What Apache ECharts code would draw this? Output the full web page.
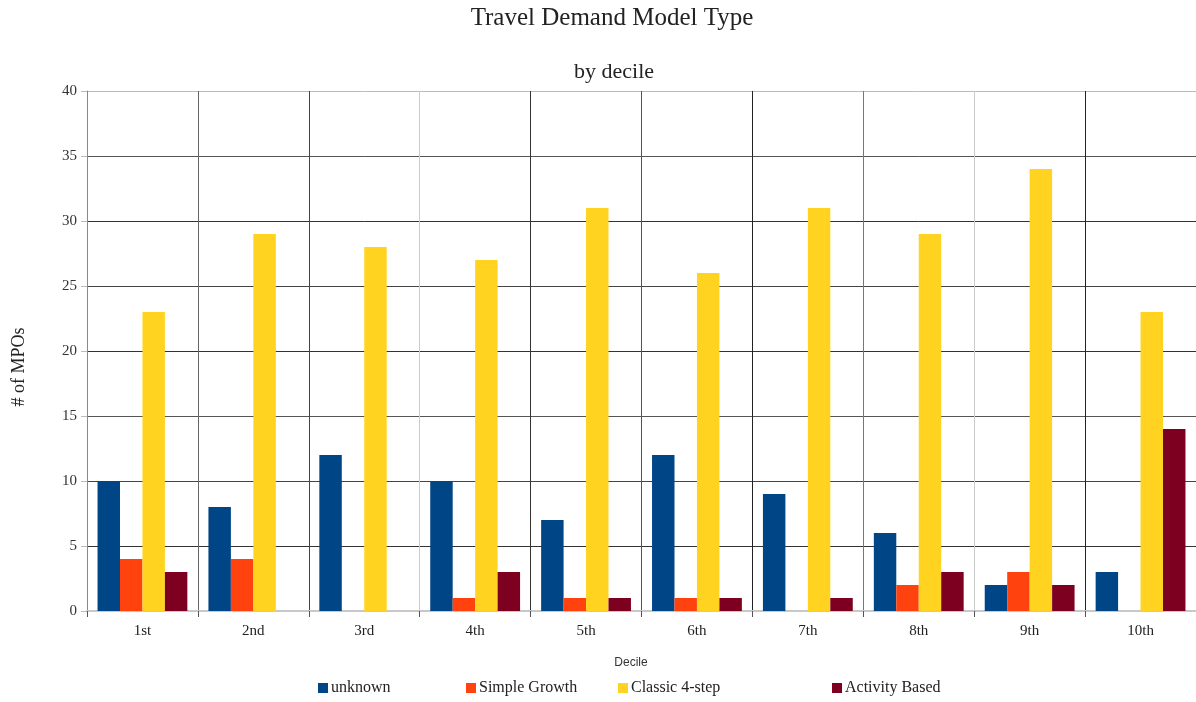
<!DOCTYPE html>
<html>
<head>
<meta charset="utf-8">
<script src="https://cdn.jsdelivr.net/npm/echarts@6/dist/echarts.min.js"></script>
<style>
  html, body { margin: 0; padding: 0; background: #ffffff; }
  #chart { width: 1196px; height: 702px; }
</style>
</head>
<body>
<div id="chart"></div>
<script>
// Deciles along the x axis
const deciles = ['1st', '2nd', '3rd', '4th', '5th', '6th', '7th', '8th', '9th', '10th'];

// Number of MPOs per model type in each decile
const unknownCounts      = [10, 8, 12, 10, 7, 12, 9, 6, 2, 3];
const simpleGrowthCounts = [4, 4, 0, 1, 1, 1, 0, 2, 3, 0];
const classicCounts      = [23, 29, 28, 27, 31, 26, 31, 29, 34, 23];
const activityCounts     = [3, 0, 0, 3, 1, 1, 1, 3, 2, 14];

const seriesNames = ['unknown', 'Simple Growth', 'Classic 4-step', 'Activity Based'];
const seriesColors = ['#004586', '#ff420e', '#ffd320', '#7e0021'];
const seriesData = [unknownCounts, simpleGrowthCounts, classicCounts, activityCounts];

const serif = '"Liberation Serif", "DejaVu Serif", serif';
const sans = '"Liberation Sans", Arial, sans-serif';

const chart = echarts.init(document.getElementById('chart'), null, { renderer: 'canvas' });

// Left edge of each legend entry along the bottom row
const legendLefts = [318, 466, 618, 832];

const option = {
  animation: false,
  backgroundColor: '#ffffff',
  legend: seriesNames.map((name, i) => ({
    data: [name],
    left: legendLefts[i],
    top: 680,
    itemWidth: 10,
    itemHeight: 10,
    itemGap: 0,
    padding: 0,
    icon: 'rect',
    selectedMode: false,
    textStyle: { fontFamily: serif, fontSize: 16, color: '#222', padding: [0, 0, 0, -2] }
  })),
  grid: { left: 87, top: 91, right: -2, bottom: 91, containLabel: false },
  xAxis: {
    type: 'category',
    data: deciles,
    axisLine: { show: true, lineStyle: { color: '#c8c8c8', width: 2 } },
    axisTick: { show: true, length: 6, lineStyle: { color: '#555' } },
    axisLabel: { fontFamily: serif, fontSize: 15, color: '#222', margin: 13 },
    splitLine: {
      show: true,
      lineStyle: {
        color: ['#888', '#666', '#444', '#ccc', '#333', '#555', '#222', '#777', '#ccc', '#222', '#222'],
        width: 1
      }
    }
  },
  yAxis: {
    type: 'value',
    min: 0, max: 40, interval: 5,
    axisLine: { show: true, lineStyle: { color: '#888' } },
    axisTick: { show: true, length: 6, lineStyle: { color: '#bbb' } },
    axisLabel: { fontFamily: serif, fontSize: 15, color: '#333', margin: 10 },
    splitLine: {
      show: true,
      lineStyle: {
        color: ['#ccc', '#333', '#444', '#555', '#333', '#444', '#333', '#555', '#bbb'],
        width: 1
      }
    }
  },
  graphic: [
    {
      // chart title
      type: 'text',
      x: 612, y: 18,
      style: {
        text: 'Travel Demand Model Type',
        font: '25px ' + serif,
        fill: '#222',
        align: 'center',
        verticalAlign: 'middle'
      }
    },
    {
      // subtitle
      type: 'text',
      x: 614, y: 72,
      style: {
        text: 'by decile',
        font: '22px ' + serif,
        fill: '#222',
        align: 'center',
        verticalAlign: 'middle'
      }
    },
    {
      // y axis name
      type: 'text',
      x: 19, y: 367,
      rotation: Math.PI / 2,
      style: {
        text: '# of MPOs',
        font: '18px ' + serif,
        fill: '#222',
        align: 'center',
        verticalAlign: 'middle'
      }
    },
    {
      // x axis name
      type: 'text',
      x: 631, y: 663,
      style: {
        text: 'Decile',
        font: '12px ' + sans,
        fill: '#333',
        align: 'center',
        verticalAlign: 'middle'
      }
    }
  ],
  series: seriesNames.map((name, i) => ({
    name,
    type: 'bar',
    data: seriesData[i],
    barGap: '0%',
    barCategoryGap: '19%',
    itemStyle: { color: seriesColors[i] }
  }))
};

chart.setOption(option);
</script>
</body>
</html>
